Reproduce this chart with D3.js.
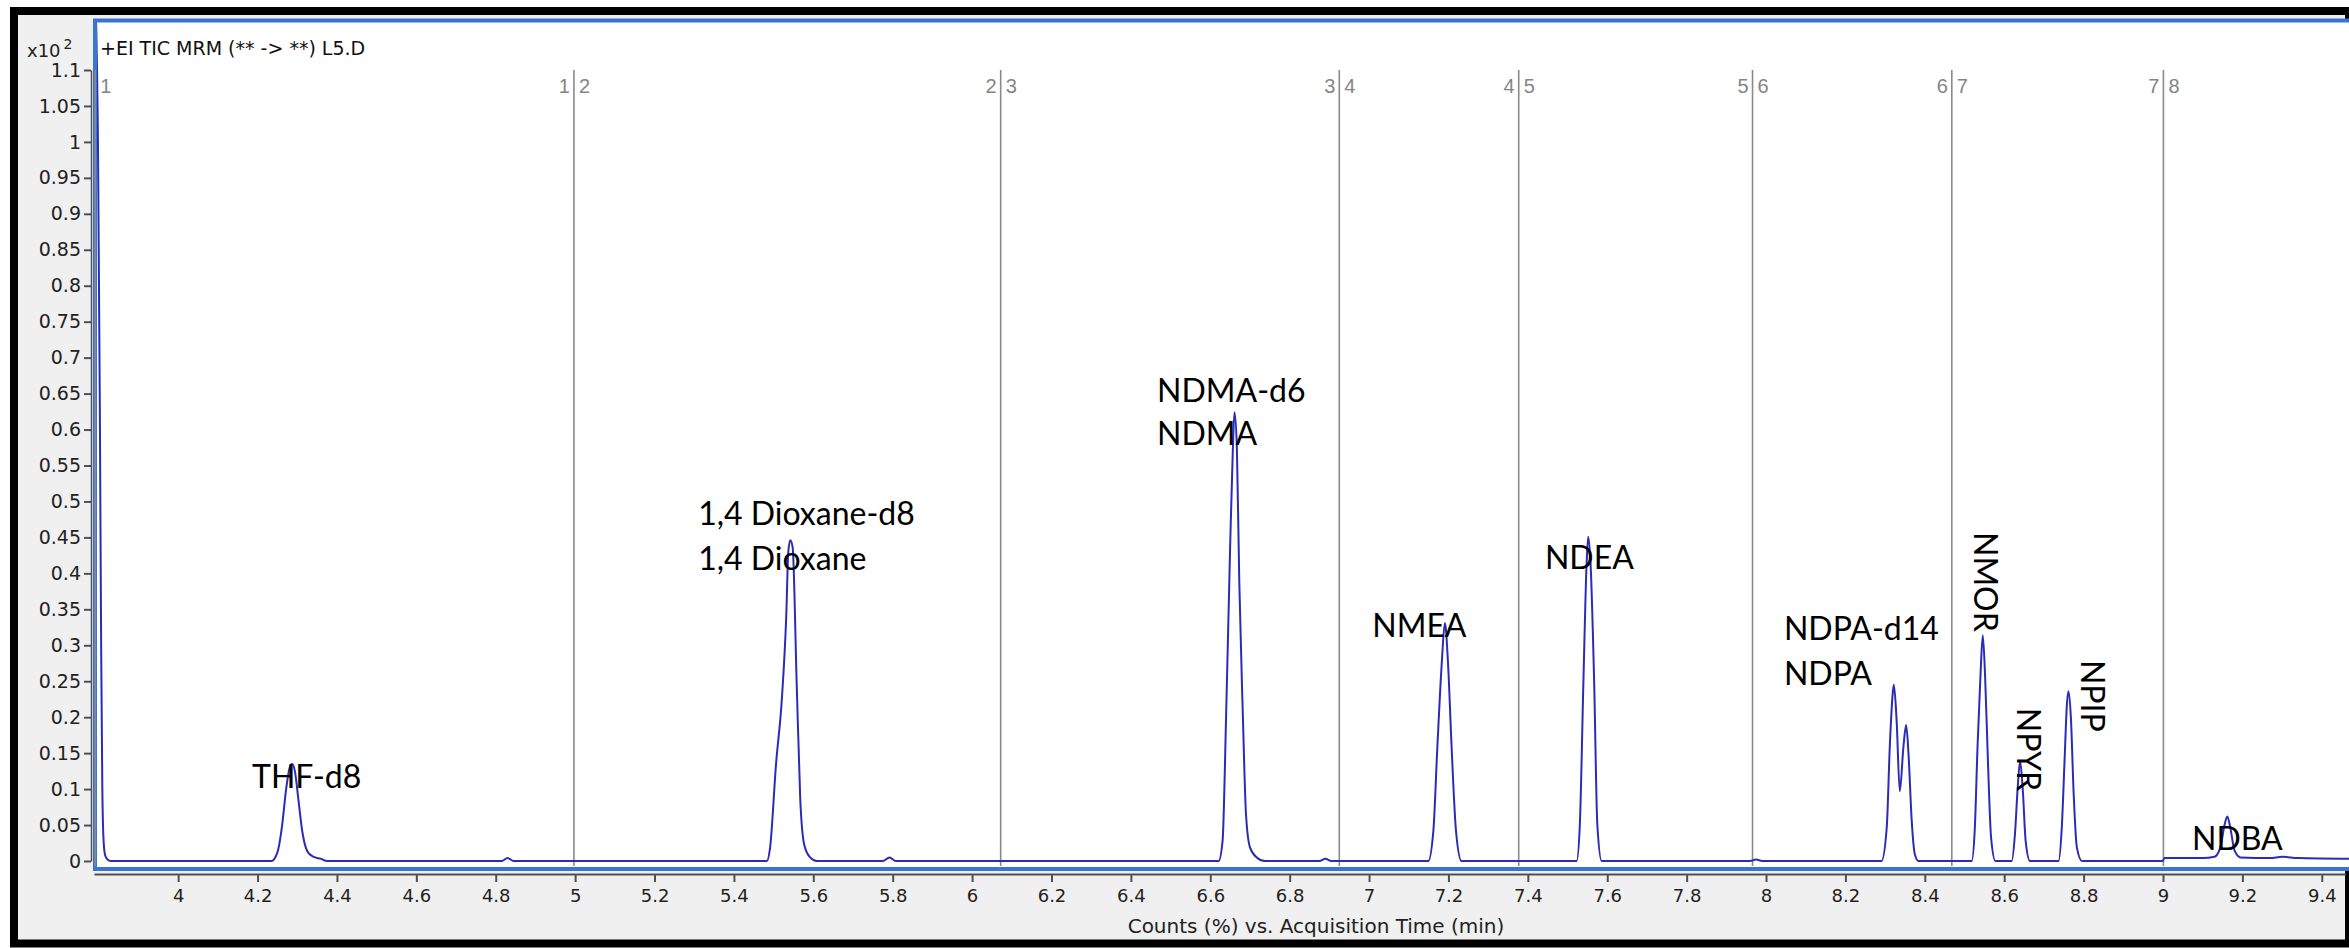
<!DOCTYPE html>
<html>
<head>
<meta charset="utf-8">
<script src="https://cdn.jsdelivr.net/npm/d3@7"></script>
<style>
    body { margin: 0; background: #fff; }
    svg { display: block; }
    .axis text { font-family: "DejaVu Sans", Verdana, sans-serif; fill: #222; }
</style>
</head>
<body>
<svg id="chart" width="2349" height="948"></svg>
<script>
// trace points: [acquisition time (min), counts (x10^2)]
const solventTail = [[3.786, 1.3], [3.798, 1.0], [3.803, 0.6], [3.806, 0.3], [3.809, 0.1], [3.812, 0.03], [3.816, 0.008], [3.822, 0.002], [3.83, 0]]
const thfPeak = [[4.235, 0], [4.25, 0.012], [4.262, 0.05], [4.272, 0.1], [4.281, 0.13], [4.287, 0.135], [4.294, 0.125],
    [4.303, 0.085], [4.313, 0.04], [4.325, 0.014], [4.34, 0.006], [4.36, 0.003], [4.375, 0]]
const bump1 = [[4.815, 0], [4.83, 0.004], [4.845, 0]]
const dioxanePeak = [[5.483, 0], [5.491, 0.018], [5.506, 0.134], [5.521, 0.227], [5.532, 0.343], [5.537, 0.43], [5.542, 0.446],
    [5.548, 0.436], [5.558, 0.25], [5.567, 0.088], [5.577, 0.023], [5.592, 0.005], [5.609, 0]]
const bump2 = [[5.775, 0], [5.792, 0.005], [5.808, 0]]
const ndmaPeak = [[6.621, 0], [6.631, 0.028], [6.64, 0.204], [6.65, 0.436], [6.657, 0.575], [6.661, 0.624], [6.667, 0.575],
    [6.673, 0.39], [6.682, 0.204], [6.69, 0.065], [6.7, 0.019], [6.717, 0.005], [6.738, 0]]
const bump3 = [[6.875, 0], [6.89, 0.003], [6.905, 0]]
const nmeaPeak = [[7.149, 0], [7.162, 0.042], [7.172, 0.158], [7.183, 0.274], [7.191, 0.331], [7.199, 0.274],
    [7.208, 0.158], [7.219, 0.042], [7.233, 0]]
const ndeaPeak = [[7.523, 0], [7.531, 0.051], [7.54, 0.25], [7.548, 0.413], [7.552, 0.451], [7.558, 0.413],
    [7.567, 0.25], [7.575, 0.051], [7.586, 0]]
const bump4 = [[7.96, 0], [7.975, 0.002], [7.99, 0]]
const ndpaPeaks = [[8.291, 0], [8.304, 0.046], [8.312, 0.162], [8.319, 0.232], [8.322, 0.245], [8.329, 0.195],
    [8.337, 0.097], [8.346, 0.158], [8.353, 0.189], [8.359, 0.148], [8.367, 0.056], [8.375, 0.009], [8.384, 0]]
const nmorPeak = [[8.518, 0], [8.526, 0.046], [8.533, 0.162], [8.54, 0.255], [8.546, 0.314], [8.552, 0.255],
    [8.559, 0.139], [8.567, 0.032], [8.578, 0]]
const npyrPeak = [[8.619, 0], [8.627, 0.037], [8.634, 0.102], [8.64, 0.139], [8.647, 0.097], [8.654, 0.028], [8.665, 0]]
const npipPeak = [[8.737, 0], [8.745, 0.046], [8.752, 0.139], [8.758, 0.218], [8.762, 0.236], [8.768, 0.199],
    [8.775, 0.093], [8.783, 0.019], [8.796, 0]]
const ndbaPeak = [[8.999, 0], [9.004, 0.004], [9.1, 0.004], [9.13, 0.006], [9.145, 0.02], [9.155, 0.05], [9.162, 0.062],
    [9.17, 0.045], [9.18, 0.015], [9.195, 0.005], [9.27, 0.004], [9.3, 0.006], [9.34, 0.004], [9.47, 0.003]]

// MRM time segments
const segmentTimes = [3.791, 4.997, 6.072, 6.925, 7.377, 7.966, 8.468, 9.001]
const segmentNames = ["1", "2", "3", "4", "5", "6", "7", "8"]

// compound annotations
const compoundNames = ["THF-d8", "1,4 Dioxane-d8", "1,4 Dioxane", "NDMA-d6", "NDMA", "NMEA", "NDEA",
    "NDPA-d14", "NDPA", "NMOR", "NPYR", "NPIP", "NDBA"]
const compoundTimes = [4.186, 5.31, 5.31, 6.466, 6.466, 7.008, 7.443, 8.045, 8.045, 8.524, 8.632, 8.793, 9.073]
const compoundCounts = [0.1015, 0.467, 0.405, 0.638, 0.579, 0.3115, 0.406, 0.307, 0.245, 0.4576, 0.213, 0.2796, 0.0153]
const compoundVertical = [false, false, false, false, false, false, false, false, false, true, true, true, false]

const xTicks = [4, 4.2, 4.4, 4.6, 4.8, 5, 5.2, 5.4, 5.6, 5.8, 6, 6.2, 6.4, 6.6, 6.8, 7, 7.2, 7.4, 7.6, 7.8,
    8, 8.2, 8.4, 8.6, 8.8, 9, 9.2, 9.4]
const yTicks = [0, 0.05, 0.1, 0.15, 0.2, 0.25, 0.3, 0.35, 0.4, 0.45, 0.5, 0.55, 0.6, 0.65, 0.7, 0.75,
    0.8, 0.85, 0.9, 0.95, 1, 1.05, 1.1]

const titleText = "+EI TIC MRM (** -> **) L5.D"
const xTitle = "Counts (%) vs. Acquisition Time (min)"

let svg = d3.select("#chart")

let x = d3.scaleLinear().domain([3.788, 9.46]).range([94, 2345.6])
let y = d3.scaleLinear().domain([0, 1.1]).range([861, 70])

// outer frame
svg.append("rect")
    .attr("x", 14).attr("y", 11).attr("width", 2335).attr("height", 932.5)
    .attr("fill", "#f0f0f0").attr("stroke", "#000").attr("stroke-width", 8)

// plot area
svg.append("rect")
    .attr("x", 95).attr("y", 20.5).attr("width", 2300).attr("height", 848.5)
    .attr("fill", "#fff").attr("stroke", "#3a76cf").attr("stroke-width", 4)

svg.append("clipPath").attr("id", "plot-clip")
    .append("rect").attr("x", 97).attr("y", 23).attr("width", 2300).attr("height", 844)

// segment markers
let segGrp = svg.append("g").attr("font-family", "Liberation Sans, Arial, sans-serif")
    .attr("font-size", 20).attr("fill", "#858585")
segmentTimes.forEach((t, i) => {
    let sx = x(t)
    segGrp.append("line")
        .attr("x1", sx).attr("x2", sx).attr("y1", y(1.1)).attr("y2", 866)
        .attr("stroke", "#8a8a8a").attr("stroke-width", 1.6)
    if (i > 0) {
        segGrp.append("text").attr("x", sx - 4).attr("y", 93)
            .attr("text-anchor", "end").text(segmentNames[i - 1])
    }
    segGrp.append("text").attr("x", sx + 5).attr("y", 93).text(segmentNames[i])
})

// trace
let trace = [].concat(solventTail, thfPeak, bump1, dioxanePeak, bump2, ndmaPeak, bump3, nmeaPeak,
    ndeaPeak, bump4, ndpaPeaks, nmorPeak, npyrPeak, npipPeak, ndbaPeak)
let lineGen = d3.line().x(p => x(p[0])).y(p => y(p[1])).curve(d3.curveMonotoneX)
svg.append("path")
    .attr("clip-path", "url(#plot-clip)")
    .attr("d", lineGen(trace))
    .attr("fill", "none")
    .attr("stroke", "#2b2bb6")
    .attr("stroke-width", 2)
    .attr("stroke-linejoin", "round")

// compound labels
let lblGrp = svg.append("g").attr("font-family", "Lato, sans-serif").attr("font-size", 32).attr("fill", "#000")
compoundNames.forEach((name, i) => {
    let lx = x(compoundTimes[i]), ly = y(compoundCounts[i])
    let t = lblGrp.append("text").text(name)
    if (compoundVertical[i]) {
        t.attr("transform", "translate(" + [lx, ly] + ") rotate(90)")
    } else {
        t.attr("x", lx).attr("y", ly)
    }
})

// axes
let xAxis = d3.axisBottom(x).tickValues(xTicks).tickSize(8).tickSizeOuter(0).tickPadding(7)
    .tickFormat(d => String(+d.toFixed(1)))
let gx = svg.append("g").attr("class", "axis").attr("transform", "translate(0,874)").call(xAxis)
gx.select(".domain").attr("stroke", "#505050").attr("stroke-width", 2)
gx.selectAll(".tick line").attr("stroke", "#505050").attr("stroke-width", 2)
gx.selectAll(".tick text").attr("font-size", 18)

let yAxis = d3.axisLeft(y).tickValues(yTicks).tickSize(7).tickSizeOuter(0).tickPadding(3)
    .tickFormat(d => String(+d.toFixed(2)))
let gy = svg.append("g").attr("class", "axis").attr("transform", "translate(91,0)").call(yAxis)
gy.select(".domain").attr("stroke", "#505050").attr("stroke-width", 1.5)
gy.selectAll(".tick line").attr("stroke", "#505050").attr("stroke-width", 2)
gy.selectAll(".tick text").attr("font-size", 19)

// titles
let mag = svg.append("text").attr("x", 27).attr("y", 57)
    .attr("font-family", "DejaVu Sans, Verdana, sans-serif").attr("font-size", 18).attr("fill", "#222")
mag.append("tspan").text("x10")
mag.append("tspan").attr("dx", 3).attr("dy", -8).attr("font-size", 14).text("2")

svg.append("text").attr("x", 100).attr("y", 55)
    .attr("font-family", "DejaVu Sans, Verdana, sans-serif").attr("font-size", 19).attr("fill", "#111")
    .text(titleText)

svg.append("text").attr("x", 1316).attr("y", 933).attr("text-anchor", "middle")
    .attr("font-family", "DejaVu Sans, Verdana, sans-serif").attr("font-size", 20).attr("fill", "#222")
    .text(xTitle)
</script>
</body>
</html>
